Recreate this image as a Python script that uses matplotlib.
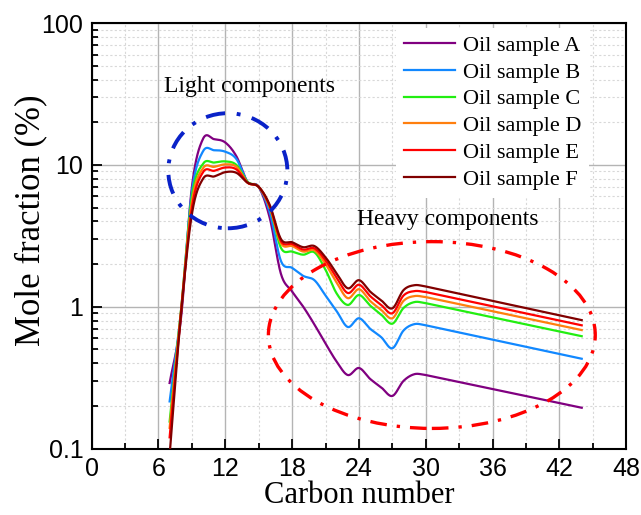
import numpy as np
import matplotlib.pyplot as plt
from matplotlib.patches import Ellipse
from matplotlib.ticker import FixedLocator, MultipleLocator, LogLocator, NullFormatter

carbon = [7, 8, 9, 10, 11, 12, 13, 14, 15, 16, 17, 18, 19, 20,
          21, 22, 23, 24, 25, 26, 27, 28, 29, 30, 44]

sample_a = [0.29, 0.80, 7.0, 15.3, 15.2, 14.4, 11.5, 7.6, 7.0, 4.2, 1.7, 1.28, 1.0, 0.75,
            0.55, 0.41, 0.33, 0.37, 0.31, 0.27, 0.235, 0.30, 0.335, 0.33, 0.194]
sample_b = [0.215, 0.90, 6.5, 12.5, 12.7, 12.4, 11.0, 7.6, 7.0, 4.6, 2.1, 1.88, 1.65, 1.54,
            1.2, 0.93, 0.72, 0.83, 0.70, 0.61, 0.51, 0.68, 0.755, 0.74, 0.43]
sample_c = [0.155, 0.90, 6.0, 10.2, 10.4, 10.6, 10.0, 7.6, 7.0, 5.0, 2.6, 2.45, 2.33, 2.42,
            1.82, 1.24, 1.03, 1.21, 1.02, 0.88, 0.76, 0.98, 1.08, 1.06, 0.62]
sample_d = [0.14, 0.89, 5.5, 9.5, 9.7, 10.1, 9.7, 7.5, 7.0, 5.0, 2.8, 2.68, 2.45, 2.50,
            2.0, 1.48, 1.15, 1.33, 1.10, 0.95, 0.83, 1.10, 1.19, 1.17, 0.685]
sample_e = [0.12, 0.88, 5.0, 8.9, 9.1, 9.6, 9.3, 7.5, 7.0, 5.1, 2.9, 2.77, 2.53, 2.58,
            2.12, 1.6, 1.25, 1.43, 1.19, 1.03, 0.90, 1.20, 1.29, 1.27, 0.74]
sample_f = [0.09, 0.85, 4.5, 8.0, 8.3, 8.9, 8.8, 7.5, 7.0, 5.2, 3.0, 2.85, 2.63, 2.68,
            2.23, 1.72, 1.35, 1.54, 1.28, 1.11, 0.975, 1.31, 1.42, 1.39, 0.805]

labels = ['Oil sample A', 'Oil sample B', 'Oil sample C',
          'Oil sample D', 'Oil sample E', 'Oil sample F']
colors = ['#800080', '#1188ff', '#22ee11', '#ff7f0e', '#ff0000', '#800000']


def smooth(x, y, xn):
    # Catmull-Rom style cubic through the points
    x = np.asarray(x, float)
    y = np.asarray(y, float)
    h = np.diff(x)
    m = np.zeros_like(y)
    m[1:-1] = (y[2:] - y[:-2]) / (x[2:] - x[:-2])
    m[0] = (y[1] - y[0]) / h[0]
    m[-1] = (y[-1] - y[-2]) / h[-1]
    i = np.clip(np.searchsorted(x, xn) - 1, 0, len(h) - 1)
    t = (xn - x[i]) / h[i]
    h00 = 2 * t**3 - 3 * t**2 + 1
    h10 = t**3 - 2 * t**2 + t
    h01 = -2 * t**3 + 3 * t**2
    h11 = t**3 - t**2
    return h00 * y[i] + h10 * h[i] * m[i] + h01 * y[i + 1] + h11 * h[i] * m[i + 1]


fig = plt.figure(figsize=(6.41, 5.15), dpi=100)
ax = fig.add_axes([0.143, 0.129, 0.834, 0.826])

series = [sample_a, sample_b, sample_c, sample_d, sample_e, sample_f]
xs = np.linspace(carbon[0], carbon[-2], 600)
for vals, lab, col in zip(series, labels, colors):
    # smooth curve up to C30 in log space, then straight to C44
    ys = 10 ** smooth(carbon[:-1], np.log10(vals[:-1]), xs)
    xx = np.append(xs, carbon[-1])
    yy = np.append(ys, vals[-1])
    ax.plot(xx, yy, color=col, lw=1.6, label=lab, zorder=3)

ax.set_yscale('log')
ax.set_xlim(0, 48)
ax.set_ylim(0.1, 100)
ax.xaxis.set_major_locator(MultipleLocator(6))
ax.xaxis.set_minor_locator(MultipleLocator(3))
ax.yaxis.set_major_locator(FixedLocator([0.1, 1, 10, 100]))
ax.yaxis.set_minor_locator(LogLocator(base=10, subs=np.arange(2, 10)))
ax.yaxis.set_minor_formatter(NullFormatter())
ax.set_yticklabels(['0.1', '1', '10', '100'])

ax.grid(which='major', color='#b4b4b4', lw=1.0, ls='-', zorder=0)
ax.grid(which='minor', color='#d8d8d8', lw=0.8, ls=(0, (2, 2)), zorder=0)
ax.set_axisbelow(True)

ax.tick_params(which='both', direction='in', top=False, right=False,
               labelsize=18, width=1.3, pad=6)
ax.tick_params(which='major', length=7)
ax.tick_params(which='minor', length=4)
for lab in ax.get_xticklabels() + ax.get_yticklabels():
    lab.set_family('Liberation Sans')
for sp in ax.spines.values():
    sp.set_linewidth(1.5)

serif = 'Liberation Serif'
ax.set_xlabel('Carbon number', family=serif, fontsize=22, labelpad=0)
ax.set_ylabel('Mole fraction (%)', family=serif, fontsize=25)
ax.yaxis.set_label_coords(-0.083, 0.537)

ax.text(14.2, 36, 'Light components', family=serif, fontsize=17,
        ha='center', va='center')
ax.text(32.0, 4.1, 'Heavy components', family=serif, fontsize=17,
        ha='center', va='center')

ax.add_patch(Ellipse((0.2547, 0.6531), 0.2227, 0.2705, transform=ax.transAxes,
                     fill=False, ec='#0a22c8', lw=2.8,
                     ls=(0, (5, 3, 1, 3)), zorder=4))
ax.add_patch(Ellipse((0.6363, 0.2669), 0.6114, 0.4391, transform=ax.transAxes,
                     fill=False, ec='#ff0000', lw=2.4,
                     ls=(0, (5, 3, 1, 3)), zorder=4))

leg = ax.legend(loc='upper right', bbox_to_anchor=(0.934, 0.995), frameon=True,
                prop={'family': serif, 'size': 16}, handlelength=2.3,
                handletextpad=0.35, labelspacing=0.28, borderpad=0.35,
                borderaxespad=0.1, fancybox=False)
leg.get_frame().set_edgecolor('none')
leg.get_frame().set_facecolor('white')
leg.get_frame().set_alpha(1)
leg.set_zorder(5)

fig.savefig('out.png', dpi=100)
